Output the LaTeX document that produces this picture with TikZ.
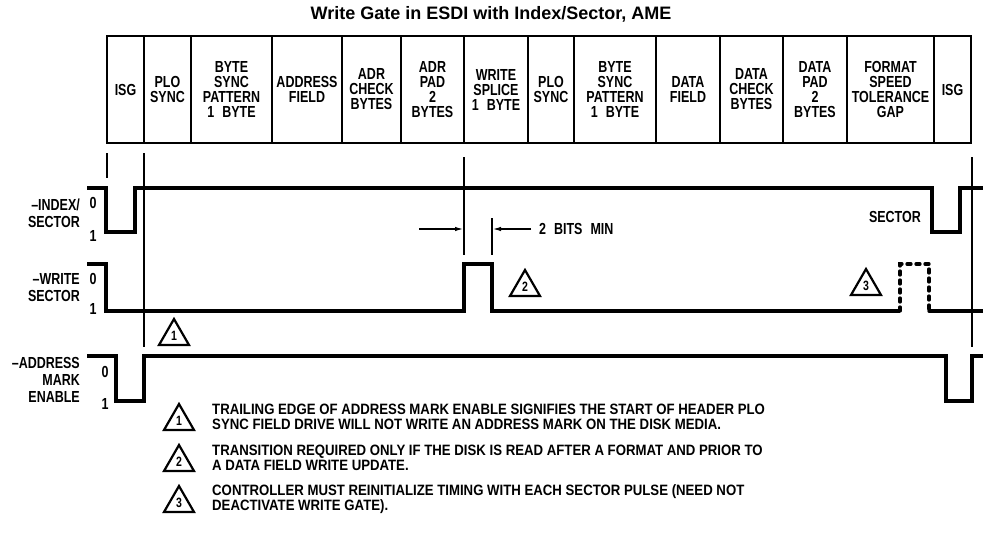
\documentclass[tikz,border=0pt]{standalone}
\usepackage{fontspec}
\setmainfont{Liberation Sans}
\newfontfamily\narrowfont[FakeStretch=0.78,BoldFont={Liberation Sans Bold}]{Liberation Sans Bold}
\newfontfamily\notefont[FakeStretch=0.88,BoldFont={Liberation Sans Bold}]{Liberation Sans Bold}
\usetikzlibrary{arrows.meta}

% numbered warning triangle: name, x, base y, number
\newcommand\flag[4]{%
  \draw[tri] (#2-15,#3) -- (#2,#3-26) -- (#2+15,#3) -- cycle;
  \node[num] (#1) at (#2,#3-9) {#4};}

\begin{document}
\begin{tikzpicture}[x=1pt,y=-1pt,
  wave/.style={line width=3.3pt},
  thin/.style={line width=1.1pt},
  tbl/.style={line width=2.8pt},
  cell/.style={font=\narrowfont\fontsize{16}{15}\selectfont, align=center, inner sep=0pt},
  sig/.style={font=\narrowfont\fontsize{16}{17}\selectfont, align=right, anchor=east, inner sep=0pt},
  lvl/.style={font=\narrowfont\fontsize{16}{15}\selectfont, inner sep=0pt},
  tri/.style={line width=2.2pt, line join=miter},
  num/.style={font=\narrowfont\fontsize{13.5}{13.5}\selectfont, inner sep=0pt},
  note/.style={font=\notefont\fontsize{15}{14.5}\selectfont, align=left, anchor=west, inner sep=0pt},
  dim/.style={thin, -{Latex[length=8pt,width=4.5pt]}}]
  \useasboundingbox (0,0) rectangle (983,533);

  % title
  \node[font=\bfseries\fontsize{18}{18}\selectfont] (title) at (491,14) {Write Gate in ESDI with Index/Sector, AME};

  % sector format table
  \foreach \a/\b/\t [count=\i] in {107/144/ISG, 144/191/{PLO\\SYNC},
      191/272/{BYTE\\SYNC\\PATTERN\\1\enspace BYTE}, 272/342/{ADDRESS\\FIELD},
      342/401/{ADR\\CHECK\\BYTES}, 401/464/{ADR\\PAD\\2\\BYTES},
      464/528/{WRITE\\SPLICE\\1\enspace BYTE}, 528/574/{PLO\\SYNC},
      574/656/{BYTE\\SYNC\\PATTERN\\1\enspace BYTE}, 656/720/{DATA\\FIELD},
      720/783/{DATA\\CHECK\\BYTES}, 783/847/{DATA\\PAD\\2\\BYTES},
      847/934/{FORMAT\\SPEED\\TOLERANCE\\GAP}, 934/971/ISG}
  {
    \draw[tbl] (\a,36) rectangle (\b,143);
    \node[cell] (c\i) at ({(\a+\b)/2},89.5) {\t};
  }

  % guide lines
  \draw[thin] (107,153) -- (107,178);
  \draw[thin] (144,153) -- (144,347);
  \draw[thin] (464,157) -- (464,255);
  \draw[thin] (492,218) -- (492,255);
  \draw[thin] (972,157) -- (972,347);

  % 2 bits min
  \coordinate (gl) at (463,229);
  \coordinate (gr) at (493,229);
  \coordinate (al) at (419,229);
  \coordinate (ar) at (531,229);
  \draw[dim] (al) -- (gl);
  \draw[dim] (ar) -- (gr);
  \node[lvl, anchor=west] (bits) at (539,229) {2\enspace BITS\enspace MIN};

  % -INDEX/SECTOR
  \node[sig] (idx) at (80,213) {–INDEX/\\SECTOR};
  \node[lvl] (idx0) at (93,203) {0};
  \node[lvl] (idx1) at (93,236) {1};
  \draw[wave] (87,188) -| (106,232) -| (135,188) -| (932,232) -| (960,188) -- (983,188);
  \node[lvl, anchor=east] (sec) at (921,217) {SECTOR};

  % -WRITE SECTOR
  \node[sig] (wrs) at (80,288) {–WRITE\\SECTOR};
  \node[lvl] (wrs0) at (93,279) {0};
  \node[lvl] (wrs1) at (93,309) {1};
  \draw[wave] (87,264) -| (106,311) -| (464,264) -| (492,311) -- (900,311);
  \draw[wave, dash pattern=on 4pt off 5pt, line cap=round] (900,311) |- (929,264) -- (929,311);
  \draw[wave, line cap=round] (929,311) -- (983,311);

  % -ADDRESS MARK ENABLE
  \node[sig] (ame) at (80,380) {–ADDRESS\\MARK\\ENABLE};
  \node[lvl] (ame0) at (105,372) {0};
  \node[lvl] (ame1) at (105,404) {1};
  \draw[wave] (87,356) -| (116,401) -| (144,356) -| (946,401) -| (972,356) -- (983,356);

  % flags on the waveforms
  \flag{t1}{174}{345}{1}
  \flag{t2}{525}{296}{2}
  \flag{t3}{866}{295}{3}

  % notes
  \flag{n1}{179}{430}{1}
  \node[note] (note1) at (212,417) {TRAILING EDGE OF ADDRESS MARK ENABLE SIGNIFIES THE START OF HEADER PLO\\SYNC FIELD DRIVE WILL NOT WRITE AN ADDRESS MARK ON THE DISK MEDIA.};
  \flag{n2}{179}{471}{2}
  \node[note] (note2) at (212,458) {TRANSITION REQUIRED ONLY IF THE DISK IS READ AFTER A FORMAT AND PRIOR TO\\A DATA FIELD WRITE UPDATE.};
  \flag{n3}{179}{512}{3}
  \node[note] (note3) at (212,499) {CONTROLLER MUST REINITIALIZE TIMING WITH EACH SECTOR PULSE (NEED NOT\\DEACTIVATE WRITE GATE).};
\end{tikzpicture}
\end{document}
